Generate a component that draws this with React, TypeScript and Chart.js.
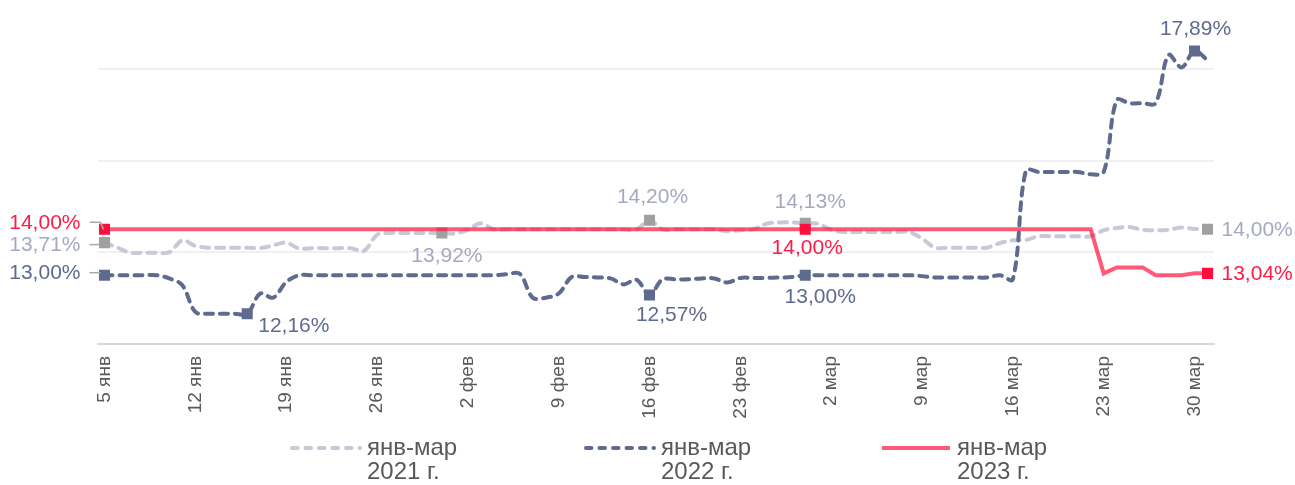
import React, { useEffect, useRef } from 'react';
import { Chart, registerables } from 'chart.js';

Chart.register(...registerables);

// ---------- data ----------
const monthNames = ['янв', 'фев', 'мар'];
const monthRanges: [number, number, number][] = [
  [0, 5, 31],
  [1, 1, 28],
  [2, 1, 31],
];
const categories: string[] = [];
for (const [m, from, to] of monthRanges) {
  for (let d = from; d <= to; d++) categories.push(`${d} ${monthNames[m]}`);
}

const seriesNames = ['янв-мар\n2021 г.', 'янв-мар\n2022 г.', 'янв-мар\n2023 г.'];

const values2021 = [
  13.71, 13.6, 13.49, 13.49, 13.49, 13.5, 13.76, 13.64, 13.6, 13.6,
  13.6, 13.6, 13.59, 13.65, 13.71, 13.58, 13.59, 13.59, 13.59, 13.59,
  13.53, 13.88, 13.92, 13.92, 13.92, 13.92, 13.92, 13.91, 13.99, 14.13,
  14.0, 14.0, 14.0, 14.0, 14.0, 14.0, 14.0, 14.0, 14.0, 14.0,
  14.0, 14.0, 14.2, 14.0, 14.0, 14.0, 14.0, 14.0, 13.96, 13.98,
  14.0, 14.12, 14.15, 14.15, 14.13, 14.12, 13.99, 13.94, 13.94, 13.94,
  13.94, 13.94, 13.94, 13.8, 13.6, 13.6, 13.6, 13.6, 13.6, 13.7,
  13.76, 13.77, 13.85, 13.85, 13.85, 13.85, 13.85, 13.98, 14.03, 14.05,
  13.99, 13.98, 13.99, 14.04, 14.01, 14.0,
];

const values2022 = [
  13.0, 13.0, 13.0, 13.0, 13.0, 12.93, 12.78, 12.2, 12.16, 12.16,
  12.16, 12.16, 12.6, 12.51, 12.85, 13.0, 13.0, 13.0, 13.0, 13.0,
  13.0, 13.0, 13.0, 13.0, 13.0, 13.0, 13.0, 13.0, 13.0, 13.0,
  13.0, 13.02, 13.03, 12.51, 12.51, 12.6, 12.96, 12.96, 12.95, 12.93,
  12.8, 12.9, 12.57, 12.91, 12.91, 12.91, 12.93, 12.93, 12.84, 12.94,
  12.94, 12.94, 12.95, 12.96, 13.0, 13.0, 13.0, 13.0, 13.0, 13.0,
  13.0, 13.0, 13.0, 12.98, 12.95, 12.95, 12.95, 12.95, 12.95, 13.0,
  12.91, 15.28, 15.25, 15.25, 15.25, 15.25, 15.2, 15.25, 16.82, 16.75,
  16.75, 16.75, 17.8, 17.53, 17.89, 17.69,
];

const values2023 = [
  14.0, 14.0, 14.0, 14.0, 14.0, 14.0, 14.0, 14.0, 14.0, 14.0,
  14.0, 14.0, 14.0, 14.0, 14.0, 14.0, 14.0, 14.0, 14.0, 14.0,
  14.0, 14.0, 14.0, 14.0, 14.0, 14.0, 14.0, 14.0, 14.0, 14.0,
  14.0, 14.0, 14.0, 14.0, 14.0, 14.0, 14.0, 14.0, 14.0, 14.0,
  14.0, 14.0, 14.0, 14.0, 14.0, 14.0, 14.0, 14.0, 14.0, 14.0,
  14.0, 14.0, 14.0, 14.0, 14.0, 14.0, 14.0, 14.0, 14.0, 14.0,
  14.0, 14.0, 14.0, 14.0, 14.0, 14.0, 14.0, 14.0, 14.0, 14.0,
  14.0, 14.0, 14.0, 14.0, 14.0, 14.0, 14.0, 13.04, 13.17, 13.17,
  13.17, 13.0, 13.0, 13.0, 13.04, 13.04,
];

// indices of highlighted points (markers + value labels)
const marked2021 = [0, 26, 42, 54, 85];
const marked2022 = [0, 11, 42, 54, 84];
const marked2023 = [0, 54, 85];

const yGridValues = [11.5, 13.5, 15.5, 17.5];

// ---------- styles ----------
const FONT = '"Liberation Sans", Arial, sans-serif';
const C2021 = '#c6c9d8';
const C2021_MARK = '#a0a0a0';
const C2021_TEXT = '#a5a9c0';
const C2022 = '#5f6a8f';
const C2023 = 'rgba(255, 25, 65, 0.72)';
const C2023_MARK = '#ff0d3d';
const C2023_TEXT = '#ff1a47';

// label placement: dataset index, point index, offset, alignment
type LabelSpec = { ds: number; i: number; dx: number; dy: number; align: CanvasTextAlign; color: string };
const labelSpecs: LabelSpec[] = [
  { ds: 0, i: 0, dx: -24, dy: 3, align: 'right', color: C2021_TEXT },
  { ds: 0, i: 26, dx: 5, dy: 23, align: 'center', color: C2021_TEXT },
  { ds: 0, i: 42, dx: 3, dy: -23, align: 'center', color: C2021_TEXT },
  { ds: 0, i: 54, dx: 5, dy: -21, align: 'center', color: C2021_TEXT },
  { ds: 0, i: 85, dx: 14, dy: 1, align: 'left', color: C2021_TEXT },
  { ds: 1, i: 0, dx: -24, dy: -2, align: 'right', color: C2022 },
  { ds: 1, i: 11, dx: 11, dy: 12, align: 'left', color: C2022 },
  { ds: 1, i: 42, dx: 22, dy: 20, align: 'center', color: C2022 },
  { ds: 1, i: 54, dx: 15, dy: 22, align: 'center', color: C2022 },
  { ds: 1, i: 84, dx: 1, dy: -22, align: 'center', color: C2022 },
  { ds: 2, i: 0, dx: -24, dy: -6, align: 'right', color: C2023_TEXT },
  { ds: 2, i: 54, dx: 2, dy: 19, align: 'center', color: C2023_TEXT },
  { ds: 2, i: 85, dx: 14, dy: 1, align: 'left', color: C2023_TEXT },
];

const fmt = (v: number) => v.toFixed(2).replace('.', ',') + '%';

const radiusFor = (marked: number[], n: number) =>
  Array.from({ length: n }, (_, i) => (marked.includes(i) ? 7.8 : 0));

const pointLabelPlugin = {
  id: 'pointLabels',
  afterDatasetsDraw(chart: any) {
    const ctx: CanvasRenderingContext2D = chart.ctx;
    ctx.save();
    // leader lines for the left-side labels
    ctx.strokeStyle = '#aaaaaa';
    ctx.lineWidth = 1.5;
    const leaders: [number, number][] = [[2, -7], [0, 2], [1, -2.5]];
    for (const [ds, dy] of leaders) {
      const el = chart.getDatasetMeta(ds).data[0];
      ctx.beginPath();
      ctx.moveTo(el.x - 15, el.y + dy);
      ctx.lineTo(el.x - 4, el.y + dy);
      if (ds === 2) ctx.lineTo(el.x - 1, el.y);
      ctx.stroke();
    }
    ctx.font = `21px ${FONT}`;
    ctx.textBaseline = 'middle';
    for (const s of labelSpecs) {
      const el = chart.getDatasetMeta(s.ds).data[s.i];
      const v = chart.data.datasets[s.ds].data[s.i];
      ctx.fillStyle = s.color;
      ctx.textAlign = s.align;
      ctx.fillText(fmt(v), el.x + s.dx, el.y + s.dy);
    }
    ctx.restore();
  },
};

const legendPlugin = {
  id: 'customLegend',
  afterDraw(chart: any) {
    const ctx: CanvasRenderingContext2D = chart.ctx;
    ctx.save();
    const items = [
      { x: 290, color: C2021, dash: [5.5, 8] },
      { x: 584, color: C2022, dash: [5.5, 8] },
      { x: 880, color: C2023, dash: [] as number[] },
    ];
    items.forEach((it, k) => {
      ctx.beginPath();
      ctx.strokeStyle = it.color;
      ctx.lineWidth = 4;
      ctx.lineCap = it.dash.length ? 'round' : 'butt';
      ctx.setLineDash(it.dash);
      ctx.moveTo(it.x + 2, 448);
      ctx.lineTo(it.x + 70, 448);
      ctx.stroke();
      ctx.setLineDash([]);
      ctx.fillStyle = '#595959';
      ctx.font = `24px ${FONT}`;
      ctx.textAlign = 'left';
      ctx.textBaseline = 'middle';
      const lines = seriesNames[k].split('\n');
      lines.forEach((t, j) => ctx.fillText(t, it.x + 77, 448 + j * 24));
    });
    ctx.restore();
  },
};

export default function App() {
  const ref = useRef<HTMLCanvasElement | null>(null);

  useEffect(() => {
    if (!ref.current) return;
    const n = categories.length;
    const chart = new Chart(ref.current, {
      type: 'line',
      data: {
        labels: categories,
        datasets: [
          {
            label: seriesNames[0],
            data: values2021,
            borderColor: C2021,
            borderWidth: 4,
            borderDash: [8, 7],
            borderCapStyle: 'round',
            tension: 0.35,
            pointStyle: 'rect',
            pointRadius: radiusFor(marked2021, n),
            pointBackgroundColor: C2021_MARK,
            pointBorderWidth: 0,
            order: 2,
          },
          {
            label: seriesNames[1],
            data: values2022,
            borderColor: C2022,
            borderWidth: 4,
            borderDash: [8, 7],
            borderCapStyle: 'round',
            tension: 0.35,
            pointStyle: 'rect',
            pointRadius: radiusFor(marked2022, n),
            pointBackgroundColor: C2022,
            pointBorderWidth: 0,
            order: 1,
          },
          {
            label: seriesNames[2],
            data: values2023,
            borderColor: C2023,
            borderWidth: 4,
            tension: 0,
            pointStyle: 'rect',
            pointRadius: radiusFor(marked2023, n),
            pointBackgroundColor: C2023_MARK,
            pointBorderWidth: 0,
            order: 0,
          },
        ],
      },
      options: {
        animation: false,
        responsive: false,
        devicePixelRatio: 1,
        layout: { padding: { left: 98, right: 81, top: 0, bottom: 0 } },
        plugins: {
          legend: { display: false },
          tooltip: { enabled: false },
        },
        scales: {
          x: {
            type: 'category',
            offset: true,
            grid: { display: false, drawTicks: false },
            border: { display: true, color: '#d9d9d9', width: 2 },
            ticks: {
              autoSkip: false,
              maxRotation: 90,
              minRotation: 90,
              padding: 12,
              color: '#595959',
              font: { family: FONT, size: 19 },
              callback: (_v: any, i: number) => (i % 7 === 0 ? categories[i] : ''),
            },
            afterFit: (s: any) => {
              s.height = 141;
            },
          },
          y: {
            min: 11.5,
            max: 18.83,
            border: { display: false },
            grid: { color: '#f0f0f0', lineWidth: 2, drawTicks: false },
            ticks: { display: false },
            afterBuildTicks: (s: any) => {
              s.ticks = yGridValues.map((v) => ({ value: v }));
            },
            afterFit: (s: any) => {
              s.width = 0;
            },
          },
        },
      },
      plugins: [pointLabelPlugin, legendPlugin],
    } as any);
    return () => chart.destroy();
  }, []);

  return (
    <div style={{ position: 'fixed', left: 0, top: 0, width: 1295, height: 485, background: '#fff' }}>
      <canvas ref={ref} width={1295} height={485} style={{ display: 'block' }} />
    </div>
  );
}
